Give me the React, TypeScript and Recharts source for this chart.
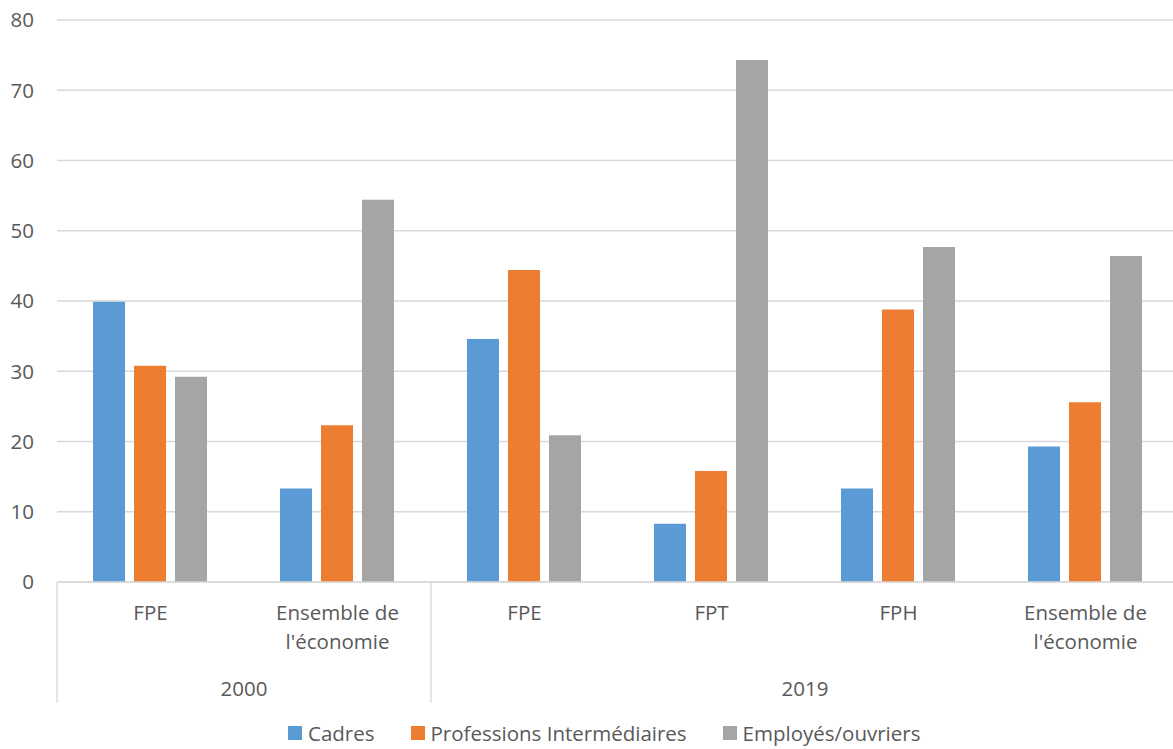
import React from 'react';
import { BarChart, Bar, XAxis, YAxis, CartesianGrid, Legend } from 'recharts';

// Categories shown on the lower axis, with the year each one belongs to
const categories = ['FPE', "Ensemble de\nl'économie", 'FPE', 'FPT', 'FPH', "Ensemble de\nl'économie"];
const categoryYears = ['2000', '2000', '2019', '2019', '2019', '2019'];

// Shares (%) per socio-professional category
const cadres = [39.9, 13.3, 34.6, 8.3, 13.3, 19.3];
const professions = [30.8, 22.3, 44.4, 15.8, 38.8, 25.6];
const employes = [29.2, 54.4, 20.9, 74.3, 47.7, 46.4];

const yTicks = [0, 10, 20, 30, 40, 50, 60, 70, 80];

const seriesNames = ['Cadres', 'Professions Intermédiaires', 'Employés/ouvriers'];
const seriesColors = ['#5B9BD5', '#ED7D31', '#A5A5A5'];

const data = categories.map((label, i) => ({
  key: `${categoryYears[i]}-${i}`,
  label,
  year: categoryYears[i],
  cadres: cadres[i],
  professions: professions[i],
  employes: employes[i],
}));

const CHART_W = 1179;
const CHART_H = 749;
const Y_AXIS_W = 57;
const BAND = (CHART_W - Y_AXIS_W) / categories.length;
const FONT = '"Open Sans", sans-serif';
const TEXT_COLOR = '#595959';
const LINE_COLOR = '#d9d9d9';

const CategoryTick = (props: any) => {
  const { x, y, index } = props;
  const item = data[index];
  if (!item) return null;
  const lines = item.label.split('\n');
  const isGroupStart = index === 0 || data[index - 1].year !== item.year;
  const groupCount = data.filter((d) => d.year === item.year).length;
  const groupLeft = x - BAND / 2;
  return (
    <g>
      <text
        x={x}
        y={y + 38}
        textAnchor="middle"
        fill={TEXT_COLOR}
        fontFamily={FONT}
        fontSize={20.5}
      >
        {lines.map((ln: string, k: number) => (
          <tspan key={k} x={x} dy={k === 0 ? 0 : 29}>
            {ln}
          </tspan>
        ))}
      </text>
      {isGroupStart && (
        <g>
          <line x1={groupLeft} y1={y} x2={groupLeft} y2={y + 121} stroke={LINE_COLOR} strokeWidth={1.3} />
          <text
            x={groupLeft + (groupCount * BAND) / 2}
            y={y + 114}
            textAnchor="middle"
            fill={TEXT_COLOR}
            fontFamily={FONT}
            fontSize={20.5}
          >
            {item.year}
          </text>
        </g>
      )}
    </g>
  );
};

const LegendContent = (props: any) => {
  // Keep the legend in series order
  const payload = [...(props.payload || [])].sort(
    (a: any, b: any) => seriesNames.indexOf(a.value) - seriesNames.indexOf(b.value)
  );
  return (
    <div
      style={{
        display: 'flex',
        alignItems: 'center',
        height: 32,
        paddingLeft: 288,
        fontFamily: FONT,
        fontSize: 20.5,
        color: TEXT_COLOR,
        boxSizing: 'border-box',
      }}
    >
      {payload.map((entry: any, i: number) => (
        <div key={i} style={{ display: 'flex', alignItems: 'center', marginRight: 36 }}>
          <span
            style={{
              display: 'inline-block',
              width: 14,
              height: 14,
              background: entry.color,
              marginRight: 6,
            }}
          />
          <span style={{ whiteSpace: 'nowrap' }}>{entry.value}</span>
        </div>
      ))}
    </div>
  );
};

export default function App() {
  return (
    <div
      style={{
        position: 'absolute',
        left: 0,
        top: 0,
        width: 1173,
        height: 749,
        overflow: 'hidden',
        background: '#ffffff',
      }}
    >
      <BarChart
        width={CHART_W}
        height={CHART_H}
        data={data}
        margin={{ top: 20, right: 0, bottom: 0, left: 0 }}
        barCategoryGap={36}
        barGap={9}
      >
        <CartesianGrid vertical={false} stroke={LINE_COLOR} strokeWidth={1.3} />
        <XAxis
          dataKey="key"
          height={135}
          interval={0}
          tickLine={false}
          tickSize={0}
          tickMargin={0}
          axisLine={{ stroke: LINE_COLOR, strokeWidth: 1.3 }}
          tick={(p: any) => <CategoryTick {...p} />}
        />
        <YAxis
          width={Y_AXIS_W}
          domain={[0, 80]}
          ticks={yTicks}
          interval={0}
          axisLine={false}
          tickLine={false}
          tickSize={0}
          tickMargin={23}
          tick={{ fill: TEXT_COLOR, fontSize: 20.5, fontFamily: FONT }}
        />
        <Legend
          verticalAlign="bottom"
          align="left"
          itemSorter={null as any}
          wrapperStyle={{ left: 0, bottom: 0, width: CHART_W, height: 32 }}
          content={(p: any) => <LegendContent {...p} />}
        />
        <Bar dataKey="cadres" name={seriesNames[0]} fill={seriesColors[0]} isAnimationActive={false} />
        <Bar dataKey="professions" name={seriesNames[1]} fill={seriesColors[1]} isAnimationActive={false} />
        <Bar dataKey="employes" name={seriesNames[2]} fill={seriesColors[2]} isAnimationActive={false} />
      </BarChart>
    </div>
  );
}
